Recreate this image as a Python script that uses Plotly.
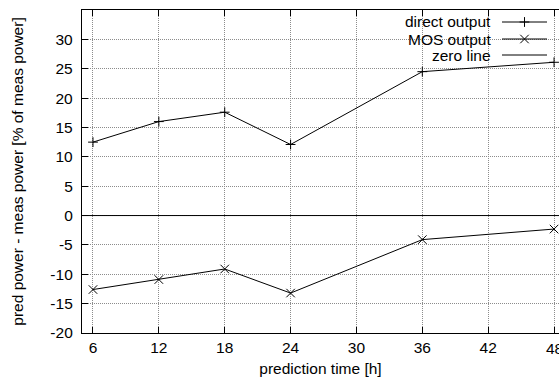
import plotly.graph_objects as go

# prediction horizons and mean forecast error (% of measured power)
hours = [6, 12, 18, 24, 36, 48]
direct_output = [12.5, 16.0, 17.6, 12.1, 24.5, 26.1]
mos_output = [-12.6, -10.9, -9.1, -13.2, -4.1, -2.3]
x_ticks = [6, 12, 18, 24, 30, 36, 42, 48]
y_ticks = [-20, -15, -10, -5, 0, 5, 10, 15, 20, 25, 30]
x_range = [5, 48.45]
y_range = [-20, 35]
zero_line = [0, 0]

W, H = 559, 385
ML, MT, MB, MR = 82, 10, 52, 0
FONT = dict(family="Liberation Sans, Arial, sans-serif", size=15.5, color="black")

line_style = dict(color="black", width=1)

fig = go.Figure()
fig.add_trace(go.Scatter(x=hours, y=direct_output, mode="lines+markers", line=line_style,
                         marker=dict(symbol="cross-thin", size=7, line=dict(color="black", width=1)),
                         showlegend=False))
fig.add_trace(go.Scatter(x=hours, y=mos_output, mode="lines+markers", line=line_style,
                         marker=dict(symbol="x-thin", size=8.5, line=dict(color="black", width=1)),
                         showlegend=False))
fig.add_trace(go.Scatter(x=x_range, y=zero_line, mode="lines", line=line_style, showlegend=False))

# key in the upper right: right-aligned label followed by a line sample
pw = W - ML - MR
ph = H - MT - MB
def px(xp):
    return (xp - ML) / pw
def py(yp):
    return (H - MB - yp) / ph

key = [("direct output", "cross-thin", 7, 22), ("MOS output", "x-thin", 8.5, 39), ("zero line", None, 0, 55)]
for label, sym, size, ypix in key:
    fig.add_annotation(x=px(493), y=py(ypix), xref="paper", yref="paper", text=label,
                       showarrow=False, xanchor="right", yanchor="middle", font=FONT)
    fig.add_trace(go.Scatter(x=[px(502), px(547)], y=[py(ypix)] * 2, mode="lines", line=line_style,
                             xaxis="x2", yaxis="y2", showlegend=False, hoverinfo="skip"))
    if sym:
        fig.add_trace(go.Scatter(x=[px(524.5)], y=[py(ypix)], mode="markers",
                                 marker=dict(symbol=sym, size=size, line=dict(color="black", width=1)),
                                 xaxis="x2", yaxis="y2", showlegend=False, hoverinfo="skip"))

# the last x tick label runs past the right edge of the page; place it explicitly
fig.add_annotation(x=x_ticks[-1], y=0, xref="x", yref="paper", yshift=-15, text=str(x_ticks[-1]),
                   showarrow=False, xanchor="center", yanchor="middle", font=FONT)

axis_common = dict(showline=True, linecolor="black", linewidth=1.3, ticks="inside", ticklen=6,
                   tickcolor="black", tickwidth=1, showgrid=True, gridcolor="#8c8c8c",
                   griddash="1px,1px", gridwidth=1, zeroline=False, tickfont=FONT)

fig.update_layout(
    width=W, height=H,
    margin=dict(l=ML, r=MR, t=MT, b=MB),
    paper_bgcolor="white", plot_bgcolor="white",
    font=FONT,
    xaxis=dict(range=x_range, tickvals=x_ticks, ticktext=[str(v) for v in x_ticks[:-1]] + [""],
               mirror="ticks", title=dict(text="prediction time [h]", font=FONT, standoff=8),
               **axis_common),
    yaxis=dict(range=y_range, tickvals=y_ticks, ticktext=[str(v) for v in y_ticks],
               ticklabelstandoff=5,
               title=dict(text="pred power - meas power [% of meas power]", font=FONT, standoff=22),
               **axis_common),
    xaxis2=dict(overlaying="x", range=[0, 1], visible=False, fixedrange=True),
    yaxis2=dict(overlaying="y", range=[0, 1], visible=False, fixedrange=True),
)

fig.write_html("out.html")
